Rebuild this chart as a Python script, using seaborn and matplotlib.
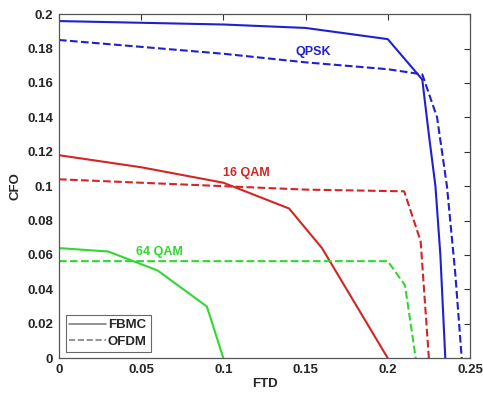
import matplotlib
matplotlib.use("Agg")
import matplotlib.pyplot as plt
import seaborn as sns
import pandas as pd
from matplotlib.lines import Line2D

# QPSK
qpsk_fbmc_ftd = [0, 0.1, 0.15, 0.2, 0.221, 0.225, 0.229, 0.232, 0.235]
qpsk_fbmc_cfo = [0.196, 0.194, 0.192, 0.1855, 0.162, 0.13, 0.1, 0.06, 0]
qpsk_ofdm_ftd = [0, 0.05, 0.1, 0.15, 0.2, 0.221, 0.23, 0.236, 0.241, 0.245]
qpsk_ofdm_cfo = [0.185, 0.181, 0.177, 0.172, 0.168, 0.165, 0.14, 0.1, 0.05, 0]
# 16 QAM
qam16_fbmc_ftd = [0, 0.05, 0.1, 0.14, 0.16, 0.2]
qam16_fbmc_cfo = [0.118, 0.111, 0.102, 0.087, 0.064, 0]
qam16_ofdm_ftd = [0, 0.05, 0.1, 0.15, 0.21, 0.22, 0.225]
qam16_ofdm_cfo = [0.104, 0.102, 0.1, 0.098, 0.097, 0.068, 0]
# 64 QAM
qam64_fbmc_ftd = [0, 0.03, 0.06, 0.09, 0.1]
qam64_fbmc_cfo = [0.064, 0.062, 0.051, 0.030, 0]
qam64_ofdm_ftd = [0, 0.1, 0.2, 0.2105, 0.217]
qam64_ofdm_cfo = [0.0564, 0.0564, 0.0564, 0.0424, 0]

blue = "#2020d0"
red = "#d42424"
green = "#30d830"

sns.set_style("white")
plt.rcParams["font.family"] = ["Liberation Sans", "DejaVu Sans"]
plt.rcParams["font.weight"] = "bold"

fig, ax = plt.subplots(figsize=(4.83, 3.94), dpi=100)

series = [
    (qpsk_fbmc_ftd, qpsk_fbmc_cfo, blue, "-"),
    (qpsk_ofdm_ftd, qpsk_ofdm_cfo, blue, "--"),
    (qam16_fbmc_ftd, qam16_fbmc_cfo, red, "-"),
    (qam16_ofdm_ftd, qam16_ofdm_cfo, red, "--"),
    (qam64_fbmc_ftd, qam64_fbmc_cfo, green, "-"),
    (qam64_ofdm_ftd, qam64_ofdm_cfo, green, "--"),
]
for xs, ys, c, ls in series:
    df = pd.DataFrame({"ftd": xs, "cfo": ys})
    sns.lineplot(data=df, x="ftd", y="cfo", color=c, linestyle=ls,
                 linewidth=1.5, sort=False, estimator=None, ax=ax)

ax.text(0.1545, 0.178, "QPSK", color=blue, fontsize=9, fontweight="bold",
        ha="center", va="center")
ax.text(0.114, 0.1075, "16 QAM", color=red, fontsize=9, fontweight="bold",
        ha="center", va="center")
ax.text(0.061, 0.0616, "64 QAM", color=green, fontsize=9, fontweight="bold",
        ha="center", va="center")

ax.set_xlim(0, 0.25)
ax.set_ylim(0, 0.2)
ax.set_xticks([0, 0.05, 0.1, 0.15, 0.2, 0.25])
ax.set_xticklabels(["0", "0.05", "0.1", "0.15", "0.2", "0.25"])
ax.set_yticks([0, 0.02, 0.04, 0.06, 0.08, 0.1, 0.12, 0.14, 0.16, 0.18, 0.2])
ax.set_yticklabels(["0", "0.02", "0.04", "0.06", "0.08", "0.1", "0.12",
                    "0.14", "0.16", "0.18", "0.2"])
ax.tick_params(direction="in", top=True, right=True, length=4, width=0.8,
               labelsize=9.5, pad=4, color="#333333")
for lab in ax.get_xticklabels() + ax.get_yticklabels():
    lab.set_fontweight("bold")
for sp in ax.spines.values():
    sp.set_color("#555555")
    sp.set_linewidth(0.9)

ax.set_xlabel("FTD", fontsize=9.5, fontweight="bold", labelpad=2)
ax.set_ylabel("CFO", fontsize=9.5, fontweight="bold", labelpad=4)

handles = [Line2D([], [], color="#808080", linestyle="-", linewidth=1.2),
           Line2D([], [], color="#808080", linestyle="--", linewidth=1.2)]
leg = ax.legend(handles, ["FBMC", "OFDM"], loc="lower left", fontsize=9.5,
                frameon=True, fancybox=False, borderaxespad=0.5,
                handlelength=2.8, handletextpad=0.1, labelspacing=0.3,
                borderpad=0.3)
leg.get_frame().set_edgecolor("#444444")
leg.get_frame().set_linewidth(0.8)
for t in leg.get_texts():
    t.set_fontweight("bold")

fig.subplots_adjust(left=0.122, right=0.973, top=0.964, bottom=0.091)
fig.savefig("out.png", dpi=100)
